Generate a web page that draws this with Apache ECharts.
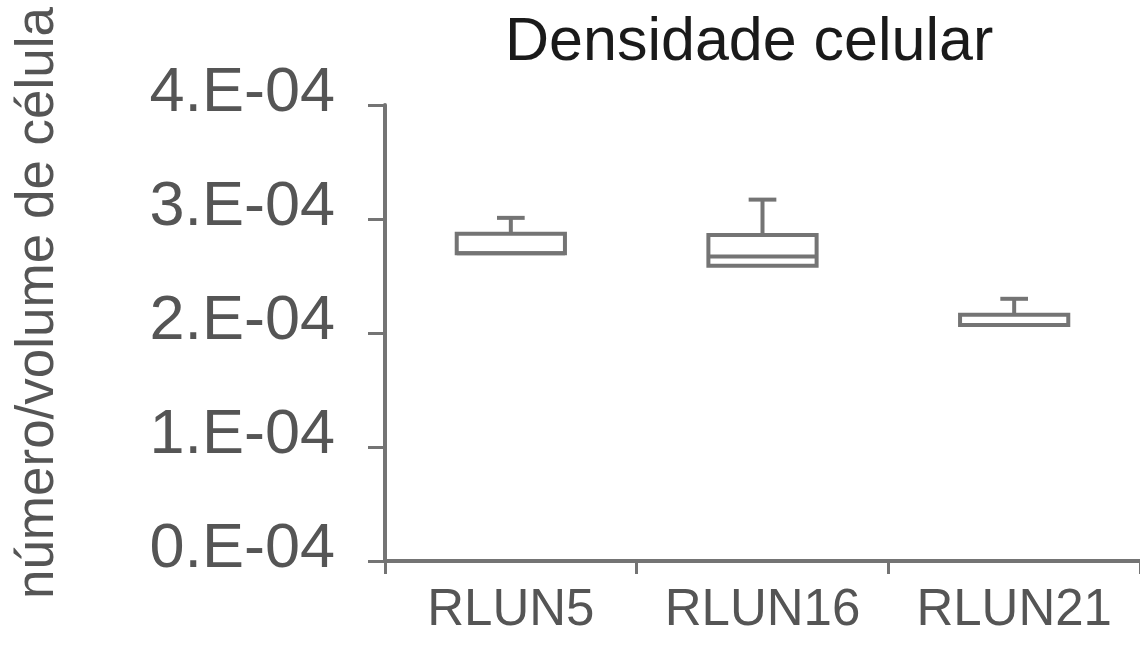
<!DOCTYPE html>
<html lang="pt">

<head>
  <meta charset="UTF-8">
  <title>Densidade celular</title>
  <style>
    html, body { margin: 0; padding: 0; background: #fff; }
    #root { width: 1140px; height: 657px; }
  </style>
</head>

<body>
  <div id="root"></div>
</body>
<script src="https://cdn.jsdelivr.net/npm/echarts@6/dist/echarts.min.js"></script>
<script>
  // dados (box plot, sem bigode inferior visível)
  const categories = ['RLUN5', 'RLUN16', 'RLUN21']
  const whiskerHigh = [3.01e-4, 3.17e-4, 2.30e-4]
  const q3 = [2.87e-4, 2.86e-4, 2.16e-4]
  const median = [2.70e-4, 2.67e-4, 2.07e-4]
  const q1 = [2.70e-4, 2.59e-4, 2.07e-4]
  const whiskerLow = [2.70e-4, 2.59e-4, 2.07e-4]
  const yTicks = [0, 1e-4, 2e-4, 3e-4, 4e-4]

  const lineColor = '#747474'
  const textColor = '#555'
  const font = 'Liberation Sans, Arial, sans-serif'

  const boxData = categories.map((c, i) => [i, whiskerLow[i], q1[i], median[i], q3[i], whiskerHigh[i]])

  function renderBox(params, api) {
    const idx = api.value(0)
    const band = api.size([1, 0])[0]
    const boxW = band * 0.43
    const capW = band * 0.11
    const x = api.coord([idx, 0])[0]
    const yLow = api.coord([idx, api.value(1)])[1]
    const yQ1 = api.coord([idx, api.value(2)])[1]
    const yMed = api.coord([idx, api.value(3)])[1]
    const yQ3 = api.coord([idx, api.value(4)])[1]
    const yHigh = api.coord([idx, api.value(5)])[1]
    const st = { stroke: lineColor, lineWidth: 4, fill: null }
    return {
      type: 'group',
      children: [
        { type: 'line', shape: { x1: x, y1: yQ3, x2: x, y2: yHigh }, style: st },
        { type: 'line', shape: { x1: x - capW / 2, y1: yHigh, x2: x + capW / 2, y2: yHigh }, style: st },
        { type: 'line', shape: { x1: x, y1: yQ1, x2: x, y2: yLow }, style: st },
        { type: 'line', shape: { x1: x - capW / 2, y1: yLow, x2: x + capW / 2, y2: yLow }, style: st, invisible: yLow === yQ1 },
        { type: 'rect', shape: { x: x - boxW / 2, y: yQ3, width: boxW, height: yQ1 - yQ3 }, style: { stroke: lineColor, lineWidth: 4, fill: '#fff' } },
        { type: 'line', shape: { x1: x - boxW / 2, y1: yMed, x2: x + boxW / 2, y2: yMed }, style: st }
      ]
    }
  }

  let myChart = echarts.init(document.getElementById('root'))

  let option = {
    backgroundColor: '#fff',
    animation: false,
    title: {
      text: 'Densidade celular',
      left: 500,
      top: 8,
      textStyle: { fontFamily: font, fontSize: 61, fontWeight: 'normal', color: '#1a1a1a' }
    },
    grid: { left: 385, top: 105, width: 762, height: 456 },
    xAxis: {
      type: 'category',
      data: categories,
      axisLine: { lineStyle: { color: lineColor, width: 4 } },
      axisTick: { show: true, interval: 0, length: 13, lineStyle: { color: lineColor, width: 3 } },
      axisLabel: { interval: 0, hideOverlap: false, fontFamily: font, fontSize: 51, color: textColor, margin: 24 },
      splitLine: { show: false }
    },
    yAxis: {
      type: 'value',
      min: yTicks[0],
      max: yTicks[yTicks.length - 1],
      interval: 1e-4,
      name: 'número/volume de célula',
      nameLocation: 'middle',
      nameRotate: 90,
      nameGap: 320,
      nameTextStyle: { fontFamily: font, fontSize: 53, color: textColor, padding: [0, 0, 0, 60] },
      axisLine: { show: true, lineStyle: { color: lineColor, width: 4 } },
      axisTick: { show: true, length: 17, lineStyle: { color: lineColor, width: 3 } },
      axisLabel: {
        margin: 50,
        formatter: v => '{t|' + Math.round(v * 1e4) + '.E-04}',
        rich: {
          t: { fontFamily: font, fontSize: 63, color: textColor, padding: [0, 0, 22, 0] }
        }
      },
      splitLine: { show: false }
    },
    series: [
      {
        type: 'custom',
        renderItem: renderBox,
        encode: { x: 0, y: [1, 2, 3, 4, 5] },
        data: boxData
      }
    ]
  }

  myChart.setOption(option)
</script>

</html>
